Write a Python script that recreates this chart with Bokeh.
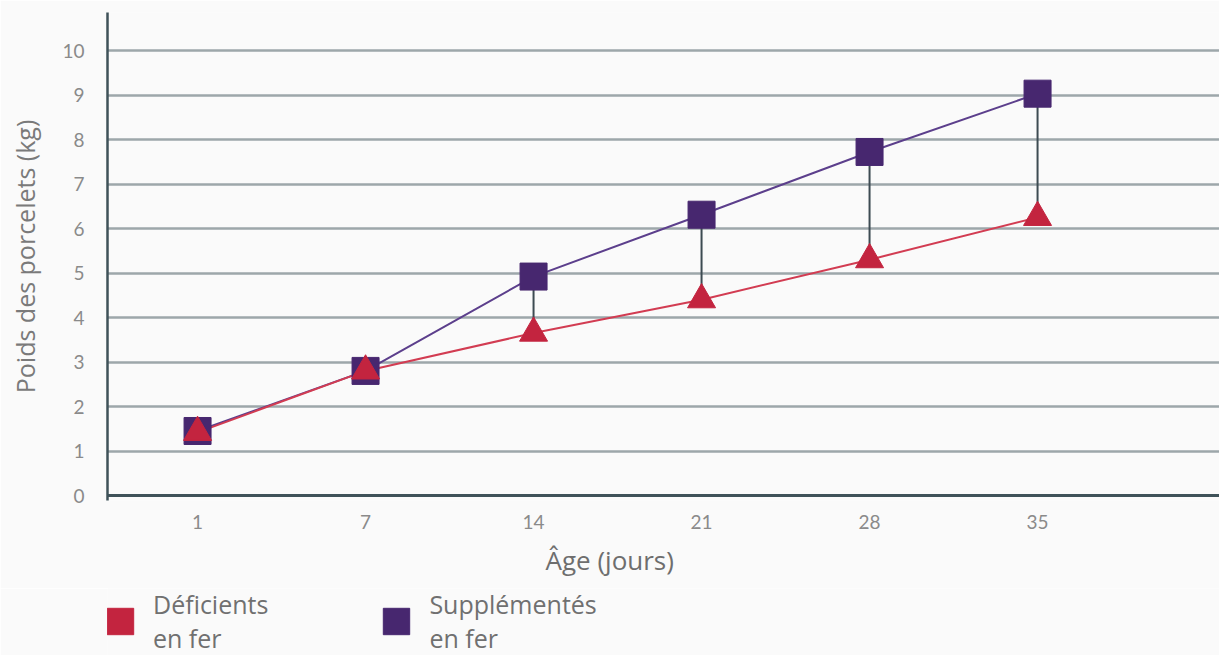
from bokeh.plotting import figure
from bokeh.models import Range1d, FixedTicker, Legend, LegendItem, Span, Title
from bokeh.layouts import column
from bokeh.embed import file_html
from bokeh.resources import INLINE

# ---- data ----
ages = ["1", "7", "14", "21", "28", "35"]
deficient = [1.42, 2.80, 3.65, 4.40, 5.30, 6.25]
supplemented = [1.45, 2.80, 4.92, 6.31, 7.72, 9.03]
y_ticks = [0, 1, 2, 3, 4, 5, 6, 7, 8, 9, 10]
series_labels = ["Déficients\nen fer", "Supplémentés\nen fer"]

RED = "#c3243f"
PURPLE = "#47276f"
AXIS = "#3f5259"
GRID = "#9da7aa"
BG = "#fafafa"

xs = list(range(len(ages)))

p = figure(width=1219, height=588, output_backend="svg", toolbar_location=None,
           x_range=Range1d(-0.536, 6.083), y_range=Range1d(-0.112, 10.854),
           min_border_left=107, min_border_right=0, min_border_top=12,
           min_border_bottom=88, background_fill_color=BG,
           border_fill_color=BG)
p.outline_line_color = None

# grid
p.xgrid.visible = False
p.ygrid.ticker = FixedTicker(ticks=y_ticks)
p.ygrid.grid_line_color = GRID
p.ygrid.grid_line_width = 2.5

# y axis
p.yaxis.ticker = FixedTicker(ticks=y_ticks)
p.yaxis.axis_line_color = AXIS
p.yaxis.axis_line_width = 2.5
p.yaxis.major_tick_line_color = None
p.yaxis.minor_tick_line_color = None
p.yaxis.major_label_text_font = "Lato"
p.yaxis.major_label_text_font_size = "19px"
p.yaxis.major_label_text_color = "#8a8a8a"
p.yaxis.major_label_standoff = 17
p.yaxis.axis_label = "Poids des porcelets (kg)"
p.yaxis.axis_label_text_font = "Open Sans"
p.yaxis.axis_label_text_font_size = "25px"
p.yaxis.axis_label_text_font_style = "normal"
p.yaxis.axis_label_text_color = "#7a7a7a"
p.yaxis.axis_label_standoff = 17

# x axis (line drawn as a span at y=0)
p.xaxis.ticker = FixedTicker(ticks=xs)
p.xaxis.major_label_overrides = {i: a for i, a in zip(xs, ages)}
p.xaxis.axis_line_color = None
p.xaxis.major_tick_line_color = None
p.xaxis.minor_tick_line_color = None
p.xaxis.major_label_text_font = "Lato"
p.xaxis.major_label_text_font_size = "19px"
p.xaxis.major_label_text_color = "#8a8a8a"
p.xaxis.major_label_standoff = 8

p.add_layout(Title(text="Âge (jours)", align="left", offset=438, standoff=17,
                   text_font="Open Sans", text_font_size="26px",
                   text_font_style="normal", text_color="#6e6e6e"), "below")

p.add_layout(Span(location=y_ticks[0], dimension="width", line_color=AXIS, line_width=3))

# connectors
p.segment(x0=xs, y0=deficient, x1=xs, y1=supplemented, line_color="#3d4b52", line_width=2)

# lines
p.line(xs, supplemented, line_color="#5c3f8c", line_width=2)
p.line(xs, deficient, line_color="#d23c52", line_width=2)

# markers
p.scatter(xs, supplemented, marker="square", size=27, fill_color=PURPLE, line_color=PURPLE)
p.scatter(xs, deficient, marker="triangle", size=28, fill_color=RED, line_color=RED)

# ---- legend strip ----
leg = figure(width=1219, height=67, output_backend="svg", toolbar_location=None,
             x_range=Range1d(-1, 0), y_range=Range1d(-1, 0),
             x_axis_location=None, y_axis_location=None,
             min_border=0, min_border_left=107,
             background_fill_color=BG, border_fill_color=BG)
leg.outline_line_color = None
leg.grid.visible = False
leg_def = leg.scatter(xs, deficient, marker="square", size=27, fill_color=RED,
                      line_color=RED, visible=False)
leg_sup = leg.scatter(xs, supplemented, marker="square", size=27, fill_color=PURPLE,
                      line_color=PURPLE, visible=False)

legend = Legend(items=[LegendItem(label=series_labels[0], renderers=[leg_def]),
                       LegendItem(label=series_labels[1], renderers=[leg_sup])],
                location=(-20, 0), orientation="horizontal",
                glyph_width=66, glyph_height=66, label_standoff=0, spacing=95,
                padding=0, margin=0, border_line_color=None, background_fill_alpha=0,
                inactive_fill_alpha=0,
                label_text_font="Open Sans", label_text_font_size="25px",
                label_text_color="#707070", label_text_line_height=1.3)
leg.add_layout(legend, "center")

layout = column(p, leg, spacing=0)
open("out.html", "w").write(file_html(layout, INLINE))
